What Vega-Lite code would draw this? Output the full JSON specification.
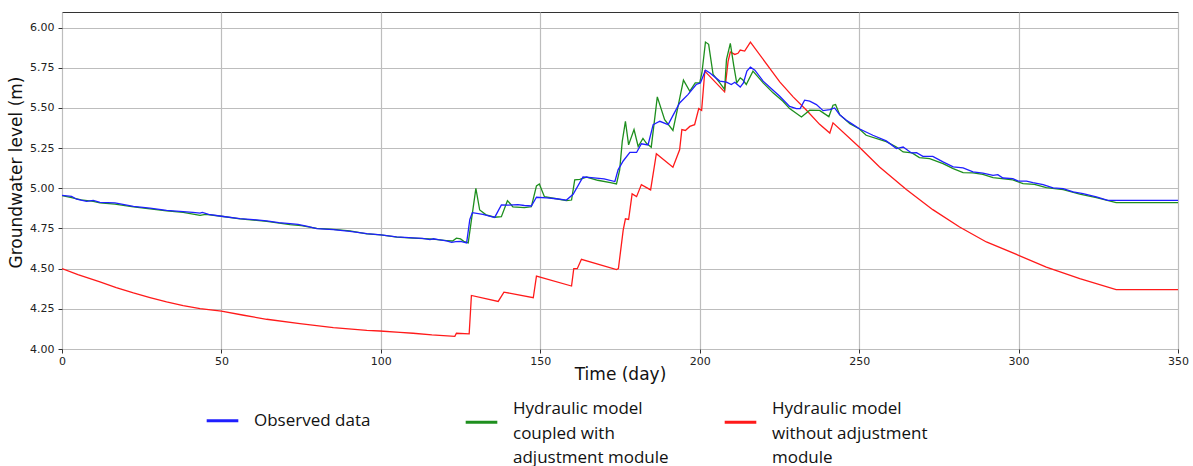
{
  "$schema": "https://vega.github.io/schema/vega-lite/v6.json",
  "autosize": {"type": "none"},
  "width": 1116,
  "height": 337,
  "padding": {"left": 62, "top": 12, "right": 15, "bottom": 117},
  "background": "white",
  "config": {
    "view": {"stroke": "#333333", "strokeWidth": 1},
    "font": "DejaVu Sans",
    "axis": {
      "labelFont": "DejaVu Sans", "labelFontSize": 11, "labelColor": "#222222",
      "titleFont": "DejaVu Sans", "titleFontSize": 17, "titleFontWeight": "normal", "titleColor": "#111111",
      "gridColor": "#bdbdbd", "gridWidth": 1.2, "gridOpacity": 1,
      "tickColor": "#333333", "tickSize": 4, "domain": false
    },
    "legend": {"labelFont": "Open Sans", "labelFontSize": 17, "labelColor": "#111111"}
  },
  "datasets": {
    "lines": [
      {"day": 0, "series": "noadj", "level": 4.50},
      {"day": 5, "series": "noadj", "level": 4.463},
      {"day": 11.9, "series": "noadj", "level": 4.417},
      {"day": 17, "series": "noadj", "level": 4.382},
      {"day": 22.4, "series": "noadj", "level": 4.349},
      {"day": 27.6, "series": "noadj", "level": 4.32},
      {"day": 32.8, "series": "noadj", "level": 4.293},
      {"day": 38, "series": "noadj", "level": 4.27},
      {"day": 43.3, "series": "noadj", "level": 4.251},
      {"day": 50, "series": "noadj", "level": 4.236},
      {"day": 57, "series": "noadj", "level": 4.21},
      {"day": 64.2, "series": "noadj", "level": 4.185},
      {"day": 74.6, "series": "noadj", "level": 4.158},
      {"day": 85.1, "series": "noadj", "level": 4.133},
      {"day": 95.6, "series": "noadj", "level": 4.116},
      {"day": 99.7, "series": "noadj", "level": 4.112},
      {"day": 106, "series": "noadj", "level": 4.104},
      {"day": 110.1, "series": "noadj", "level": 4.098},
      {"day": 116, "series": "noadj", "level": 4.088},
      {"day": 123.2, "series": "noadj", "level": 4.079},
      {"day": 123.7, "series": "noadj", "level": 4.098},
      {"day": 127.7, "series": "noadj", "level": 4.094},
      {"day": 128.4, "series": "noadj", "level": 4.333},
      {"day": 136.8, "series": "noadj", "level": 4.296},
      {"day": 138.6, "series": "noadj", "level": 4.354},
      {"day": 147.8, "series": "noadj", "level": 4.319},
      {"day": 148.8, "series": "noadj", "level": 4.454},
      {"day": 159.8, "series": "noadj", "level": 4.392},
      {"day": 160.5, "series": "noadj", "level": 4.50},
      {"day": 161.6, "series": "noadj", "level": 4.50},
      {"day": 162.9, "series": "noadj", "level": 4.558},
      {"day": 173.9, "series": "noadj", "level": 4.494},
      {"day": 174.5, "series": "noadj", "level": 4.50},
      {"day": 176, "series": "noadj", "level": 4.74},
      {"day": 176.7, "series": "noadj", "level": 4.81},
      {"day": 177.7, "series": "noadj", "level": 4.806},
      {"day": 178.8, "series": "noadj", "level": 4.965},
      {"day": 180.2, "series": "noadj", "level": 4.948},
      {"day": 181.7, "series": "noadj", "level": 5.023},
      {"day": 184.6, "series": "noadj", "level": 4.99},
      {"day": 186.4, "series": "noadj", "level": 5.215},
      {"day": 191.6, "series": "noadj", "level": 5.131},
      {"day": 193.7, "series": "noadj", "level": 5.24},
      {"day": 194.4, "series": "noadj", "level": 5.365},
      {"day": 195.5, "series": "noadj", "level": 5.36},
      {"day": 196.9, "series": "noadj", "level": 5.385},
      {"day": 198.4, "series": "noadj", "level": 5.396},
      {"day": 199.7, "series": "noadj", "level": 5.496},
      {"day": 200.6, "series": "noadj", "level": 5.485},
      {"day": 201.6, "series": "noadj", "level": 5.729},
      {"day": 207.8, "series": "noadj", "level": 5.60},
      {"day": 208.9, "series": "noadj", "level": 5.79},
      {"day": 209.6, "series": "noadj", "level": 5.848},
      {"day": 211, "series": "noadj", "level": 5.833},
      {"day": 212, "series": "noadj", "level": 5.84},
      {"day": 212.7, "series": "noadj", "level": 5.86},
      {"day": 214.1, "series": "noadj", "level": 5.854},
      {"day": 215.9, "series": "noadj", "level": 5.91},
      {"day": 225.1, "series": "noadj", "level": 5.662},
      {"day": 229.3, "series": "noadj", "level": 5.569},
      {"day": 233.5, "series": "noadj", "level": 5.486},
      {"day": 237.6, "series": "noadj", "level": 5.398},
      {"day": 240.8, "series": "noadj", "level": 5.344},
      {"day": 241.8, "series": "noadj", "level": 5.407},
      {"day": 250, "series": "noadj", "level": 5.257},
      {"day": 256.4, "series": "noadj", "level": 5.133},
      {"day": 264.8, "series": "noadj", "level": 4.992},
      {"day": 273.1, "series": "noadj", "level": 4.867},
      {"day": 281.5, "series": "noadj", "level": 4.759},
      {"day": 289.9, "series": "noadj", "level": 4.666},
      {"day": 300, "series": "noadj", "level": 4.583},
      {"day": 308.7, "series": "noadj", "level": 4.51},
      {"day": 319.2, "series": "noadj", "level": 4.438},
      {"day": 330.6, "series": "noadj", "level": 4.369},
      {"day": 350, "series": "noadj", "level": 4.369},

      {"day": 0, "series": "adj", "level": 4.955},
      {"day": 3, "series": "adj", "level": 4.942},
      {"day": 6, "series": "adj", "level": 4.928},
      {"day": 9.8, "series": "adj", "level": 4.918},
      {"day": 11.9, "series": "adj", "level": 4.909},
      {"day": 16.6, "series": "adj", "level": 4.902},
      {"day": 22.4, "series": "adj", "level": 4.884},
      {"day": 27.6, "series": "adj", "level": 4.872},
      {"day": 32.8, "series": "adj", "level": 4.86},
      {"day": 38, "series": "adj", "level": 4.85},
      {"day": 43.3, "series": "adj", "level": 4.832},
      {"day": 45, "series": "adj", "level": 4.838},
      {"day": 50, "series": "adj", "level": 4.826},
      {"day": 55.8, "series": "adj", "level": 4.81},
      {"day": 64.2, "series": "adj", "level": 4.794},
      {"day": 71.5, "series": "adj", "level": 4.774},
      {"day": 75, "series": "adj", "level": 4.768},
      {"day": 79.9, "series": "adj", "level": 4.75},
      {"day": 85.1, "series": "adj", "level": 4.745},
      {"day": 90.3, "series": "adj", "level": 4.735},
      {"day": 95.6, "series": "adj", "level": 4.716},
      {"day": 100, "series": "adj", "level": 4.71},
      {"day": 105, "series": "adj", "level": 4.696},
      {"day": 110, "series": "adj", "level": 4.69},
      {"day": 115.4, "series": "adj", "level": 4.685},
      {"day": 117, "series": "adj", "level": 4.682},
      {"day": 120.6, "series": "adj", "level": 4.675},
      {"day": 122.5, "series": "adj", "level": 4.672},
      {"day": 123.7, "series": "adj", "level": 4.69},
      {"day": 125, "series": "adj", "level": 4.685},
      {"day": 126, "series": "adj", "level": 4.67},
      {"day": 127.4, "series": "adj", "level": 4.66},
      {"day": 129.8, "series": "adj", "level": 5.0},
      {"day": 131, "series": "adj", "level": 4.865},
      {"day": 133, "series": "adj", "level": 4.835},
      {"day": 135.7, "series": "adj", "level": 4.82},
      {"day": 137.8, "series": "adj", "level": 4.823},
      {"day": 139.7, "series": "adj", "level": 4.923},
      {"day": 141.4, "series": "adj", "level": 4.885},
      {"day": 145, "series": "adj", "level": 4.88},
      {"day": 147.2, "series": "adj", "level": 4.885},
      {"day": 148.8, "series": "adj", "level": 5.015},
      {"day": 149.7, "series": "adj", "level": 5.027},
      {"day": 151.3, "series": "adj", "level": 4.948},
      {"day": 155, "series": "adj", "level": 4.935},
      {"day": 158.2, "series": "adj", "level": 4.923},
      {"day": 159.8, "series": "adj", "level": 4.927},
      {"day": 160.8, "series": "adj", "level": 5.052},
      {"day": 162.4, "series": "adj", "level": 5.056},
      {"day": 164.5, "series": "adj", "level": 5.07},
      {"day": 168, "series": "adj", "level": 5.05},
      {"day": 172, "series": "adj", "level": 5.035},
      {"day": 173.9, "series": "adj", "level": 5.027},
      {"day": 174.9, "series": "adj", "level": 5.115},
      {"day": 175.7, "series": "adj", "level": 5.29},
      {"day": 176.7, "series": "adj", "level": 5.417},
      {"day": 177.7, "series": "adj", "level": 5.27},
      {"day": 179.4, "series": "adj", "level": 5.365},
      {"day": 180.7, "series": "adj", "level": 5.26},
      {"day": 182.2, "series": "adj", "level": 5.31},
      {"day": 183.3, "series": "adj", "level": 5.28},
      {"day": 184.8, "series": "adj", "level": 5.256},
      {"day": 186.7, "series": "adj", "level": 5.569},
      {"day": 189, "series": "adj", "level": 5.427},
      {"day": 191.6, "series": "adj", "level": 5.36},
      {"day": 193.2, "series": "adj", "level": 5.51},
      {"day": 194.9, "series": "adj", "level": 5.673},
      {"day": 196.9, "series": "adj", "level": 5.604},
      {"day": 198.6, "series": "adj", "level": 5.656},
      {"day": 200, "series": "adj", "level": 5.656},
      {"day": 200.7, "series": "adj", "level": 5.719},
      {"day": 201.8, "series": "adj", "level": 5.91},
      {"day": 202.8, "series": "adj", "level": 5.896},
      {"day": 204.2, "series": "adj", "level": 5.708},
      {"day": 206.3, "series": "adj", "level": 5.656},
      {"day": 207.8, "series": "adj", "level": 5.615},
      {"day": 208.4, "series": "adj", "level": 5.802},
      {"day": 209.6, "series": "adj", "level": 5.902},
      {"day": 210.7, "series": "adj", "level": 5.76},
      {"day": 211.6, "series": "adj", "level": 5.656},
      {"day": 212.7, "series": "adj", "level": 5.687},
      {"day": 213.5, "series": "adj", "level": 5.675},
      {"day": 214.6, "series": "adj", "level": 5.646},
      {"day": 216.7, "series": "adj", "level": 5.729},
      {"day": 219.9, "series": "adj", "level": 5.656},
      {"day": 223, "series": "adj", "level": 5.594},
      {"day": 226.1, "series": "adj", "level": 5.542},
      {"day": 228.2, "series": "adj", "level": 5.496},
      {"day": 231.9, "series": "adj", "level": 5.444},
      {"day": 234.5, "series": "adj", "level": 5.486},
      {"day": 237.6, "series": "adj", "level": 5.485},
      {"day": 240.5, "series": "adj", "level": 5.446},
      {"day": 241.8, "series": "adj", "level": 5.517},
      {"day": 242.6, "series": "adj", "level": 5.521},
      {"day": 243.9, "series": "adj", "level": 5.458},
      {"day": 247.1, "series": "adj", "level": 5.402},
      {"day": 250, "series": "adj", "level": 5.371},
      {"day": 252.2, "series": "adj", "level": 5.33},
      {"day": 258.5, "series": "adj", "level": 5.29},
      {"day": 261.7, "series": "adj", "level": 5.257},
      {"day": 263.8, "series": "adj", "level": 5.226},
      {"day": 266.6, "series": "adj", "level": 5.22},
      {"day": 268.9, "series": "adj", "level": 5.191},
      {"day": 272.1, "series": "adj", "level": 5.185},
      {"day": 276.3, "series": "adj", "level": 5.154},
      {"day": 279.5, "series": "adj", "level": 5.122},
      {"day": 282.6, "series": "adj", "level": 5.098},
      {"day": 285.7, "series": "adj", "level": 5.096},
      {"day": 288.8, "series": "adj", "level": 5.086},
      {"day": 292, "series": "adj", "level": 5.067},
      {"day": 298.2, "series": "adj", "level": 5.052},
      {"day": 301.4, "series": "adj", "level": 5.029},
      {"day": 305, "series": "adj", "level": 5.025},
      {"day": 308.7, "series": "adj", "level": 5.004},
      {"day": 314, "series": "adj", "level": 4.992},
      {"day": 319.2, "series": "adj", "level": 4.963},
      {"day": 324.4, "series": "adj", "level": 4.942},
      {"day": 330.6, "series": "adj", "level": 4.911},
      {"day": 350, "series": "adj", "level": 4.911},

      {"day": 0, "series": "obs", "level": 4.956},
      {"day": 3, "series": "obs", "level": 4.95},
      {"day": 4.6, "series": "obs", "level": 4.932},
      {"day": 7.7, "series": "obs", "level": 4.919},
      {"day": 9.8, "series": "obs", "level": 4.925},
      {"day": 11.9, "series": "obs", "level": 4.913},
      {"day": 16.6, "series": "obs", "level": 4.909},
      {"day": 22.4, "series": "obs", "level": 4.888},
      {"day": 27.6, "series": "obs", "level": 4.876},
      {"day": 32.8, "series": "obs", "level": 4.863},
      {"day": 38, "series": "obs", "level": 4.855},
      {"day": 41, "series": "obs", "level": 4.85},
      {"day": 43.3, "series": "obs", "level": 4.846},
      {"day": 44, "series": "obs", "level": 4.85},
      {"day": 46, "series": "obs", "level": 4.838},
      {"day": 50, "series": "obs", "level": 4.826},
      {"day": 55.8, "series": "obs", "level": 4.811},
      {"day": 60, "series": "obs", "level": 4.805},
      {"day": 64.2, "series": "obs", "level": 4.797},
      {"day": 68, "series": "obs", "level": 4.787},
      {"day": 71.5, "series": "obs", "level": 4.78},
      {"day": 74, "series": "obs", "level": 4.776},
      {"day": 77, "series": "obs", "level": 4.763},
      {"day": 79.9, "series": "obs", "level": 4.749},
      {"day": 85.1, "series": "obs", "level": 4.743},
      {"day": 90.3, "series": "obs", "level": 4.732},
      {"day": 95.6, "series": "obs", "level": 4.718},
      {"day": 100, "series": "obs", "level": 4.71},
      {"day": 104.9, "series": "obs", "level": 4.698},
      {"day": 110.1, "series": "obs", "level": 4.692},
      {"day": 113, "series": "obs", "level": 4.688},
      {"day": 115.4, "series": "obs", "level": 4.681},
      {"day": 116.5, "series": "obs", "level": 4.686},
      {"day": 118, "series": "obs", "level": 4.68},
      {"day": 120.6, "series": "obs", "level": 4.673},
      {"day": 122.2, "series": "obs", "level": 4.663},
      {"day": 123.5, "series": "obs", "level": 4.668},
      {"day": 125, "series": "obs", "level": 4.67},
      {"day": 126.9, "series": "obs", "level": 4.66},
      {"day": 127.9, "series": "obs", "level": 4.806},
      {"day": 128.7, "series": "obs", "level": 4.848},
      {"day": 132, "series": "obs", "level": 4.838},
      {"day": 135.7, "series": "obs", "level": 4.819},
      {"day": 137.8, "series": "obs", "level": 4.896},
      {"day": 140, "series": "obs", "level": 4.895},
      {"day": 143, "series": "obs", "level": 4.898},
      {"day": 145, "series": "obs", "level": 4.893},
      {"day": 147.2, "series": "obs", "level": 4.89},
      {"day": 148.8, "series": "obs", "level": 4.944},
      {"day": 152, "series": "obs", "level": 4.94},
      {"day": 155, "series": "obs", "level": 4.935},
      {"day": 158.2, "series": "obs", "level": 4.927},
      {"day": 160.3, "series": "obs", "level": 4.963},
      {"day": 163.4, "series": "obs", "level": 5.07},
      {"day": 166, "series": "obs", "level": 5.067},
      {"day": 170, "series": "obs", "level": 5.058},
      {"day": 173.4, "series": "obs", "level": 5.042},
      {"day": 174.4, "series": "obs", "level": 5.115},
      {"day": 176, "series": "obs", "level": 5.17},
      {"day": 178.1, "series": "obs", "level": 5.223},
      {"day": 180.2, "series": "obs", "level": 5.223},
      {"day": 181.7, "series": "obs", "level": 5.277},
      {"day": 183.8, "series": "obs", "level": 5.27},
      {"day": 185.4, "series": "obs", "level": 5.396},
      {"day": 187.5, "series": "obs", "level": 5.417},
      {"day": 190.1, "series": "obs", "level": 5.396},
      {"day": 193.7, "series": "obs", "level": 5.531},
      {"day": 196.3, "series": "obs", "level": 5.583},
      {"day": 198.9, "series": "obs", "level": 5.646},
      {"day": 200.2, "series": "obs", "level": 5.656},
      {"day": 201.8, "series": "obs", "level": 5.735},
      {"day": 203.1, "series": "obs", "level": 5.719},
      {"day": 206.3, "series": "obs", "level": 5.667},
      {"day": 208.4, "series": "obs", "level": 5.66},
      {"day": 209.9, "series": "obs", "level": 5.646},
      {"day": 211, "series": "obs", "level": 5.66},
      {"day": 212.7, "series": "obs", "level": 5.63},
      {"day": 213.7, "series": "obs", "level": 5.656},
      {"day": 214.8, "series": "obs", "level": 5.729},
      {"day": 215.9, "series": "obs", "level": 5.754},
      {"day": 217.3, "series": "obs", "level": 5.735},
      {"day": 219.9, "series": "obs", "level": 5.667},
      {"day": 222.5, "series": "obs", "level": 5.619},
      {"day": 225.1, "series": "obs", "level": 5.573},
      {"day": 228.2, "series": "obs", "level": 5.51},
      {"day": 230.3, "series": "obs", "level": 5.496},
      {"day": 231.5, "series": "obs", "level": 5.496},
      {"day": 232.9, "series": "obs", "level": 5.548},
      {"day": 234.5, "series": "obs", "level": 5.542},
      {"day": 236.6, "series": "obs", "level": 5.521},
      {"day": 238.7, "series": "obs", "level": 5.483},
      {"day": 240.8, "series": "obs", "level": 5.49},
      {"day": 242.3, "series": "obs", "level": 5.5},
      {"day": 243.9, "series": "obs", "level": 5.458},
      {"day": 246, "series": "obs", "level": 5.423},
      {"day": 248.1, "series": "obs", "level": 5.396},
      {"day": 250.2, "series": "obs", "level": 5.369},
      {"day": 254.3, "series": "obs", "level": 5.33},
      {"day": 258.5, "series": "obs", "level": 5.295},
      {"day": 261.7, "series": "obs", "level": 5.247},
      {"day": 263.8, "series": "obs", "level": 5.257},
      {"day": 266.4, "series": "obs", "level": 5.22},
      {"day": 268, "series": "obs", "level": 5.222},
      {"day": 270, "series": "obs", "level": 5.199},
      {"day": 273.1, "series": "obs", "level": 5.199},
      {"day": 276.3, "series": "obs", "level": 5.164},
      {"day": 279.5, "series": "obs", "level": 5.133},
      {"day": 282.6, "series": "obs", "level": 5.127},
      {"day": 285.7, "series": "obs", "level": 5.102},
      {"day": 288.8, "series": "obs", "level": 5.095},
      {"day": 292, "series": "obs", "level": 5.081},
      {"day": 293.5, "series": "obs", "level": 5.085},
      {"day": 295.1, "series": "obs", "level": 5.064},
      {"day": 298.2, "series": "obs", "level": 5.06},
      {"day": 300, "series": "obs", "level": 5.044},
      {"day": 302.5, "series": "obs", "level": 5.044},
      {"day": 304.5, "series": "obs", "level": 5.035},
      {"day": 307.7, "series": "obs", "level": 5.023},
      {"day": 310.8, "series": "obs", "level": 5.002},
      {"day": 314, "series": "obs", "level": 4.998},
      {"day": 317.1, "series": "obs", "level": 4.977},
      {"day": 320.2, "series": "obs", "level": 4.967},
      {"day": 324.4, "series": "obs", "level": 4.946},
      {"day": 328, "series": "obs", "level": 4.925},
      {"day": 330.6, "series": "obs", "level": 4.925},
      {"day": 350, "series": "obs", "level": 4.925}
    ]
  },
  "data": {"name": "lines"},
  "mark": {"type": "line", "strokeWidth": 1.3, "clip": true},
  "encoding": {
    "x": {
      "field": "day", "type": "quantitative",
      "scale": {"domain": [0, 350], "nice": false, "zero": false},
      "axis": {"title": "Time (day)", "values": [0, 50, 100, 150, 200, 250, 300, 350], "labelPadding": 2, "titlePadding": 0, "labelFlush": false}
    },
    "y": {
      "field": "level", "type": "quantitative",
      "scale": {"domain": [4.0, 6.097], "nice": false, "zero": false},
      "axis": {"title": "Groundwater level (m)", "values": [4.0, 4.25, 4.5, 4.75, 5.0, 5.25, 5.5, 5.75, 6.0], "format": ".2f", "labelPadding": 4, "titlePadding": 4, "titleY": 160}
    },
    "color": {
      "field": "series", "type": "nominal",
      "scale": {"domain": ["obs", "adj", "noadj"], "range": ["#1f1fff", "#1e8f1e", "#ff1a1a"]},
      "legend": {
        "title": null,
        "orient": "none",
        "legendX": 143,
        "legendY": 391,
        "direction": "horizontal",
        "columns": 3,
        "columnPadding": 49,
        "gridAlign": "all",
        "padding": 0,
        "symbolType": "stroke",
        "symbolSize": 1000,
        "symbolStrokeWidth": 3,
        "labelOffset": 14,
        "labelLimit": 300,
        "labelBaseline": "middle",
        "labelExpr": "datum.value == 'obs' ? ['', 'Observed data', '', '', ''] : datum.value == 'adj' ? ['Hydraulic model', 'coupled with', 'adjustment module'] : ['Hydraulic model', 'without adjustment', 'module']",
        "encode": {
          "labels": {"update": {"lineHeight": {"signal": "datum.value == 'obs' ? 13 : 24.5"}, "dy": {"value": -13}}}
        }
      }
    },
    "order": {"field": "day", "type": "quantitative"}
  }
}
